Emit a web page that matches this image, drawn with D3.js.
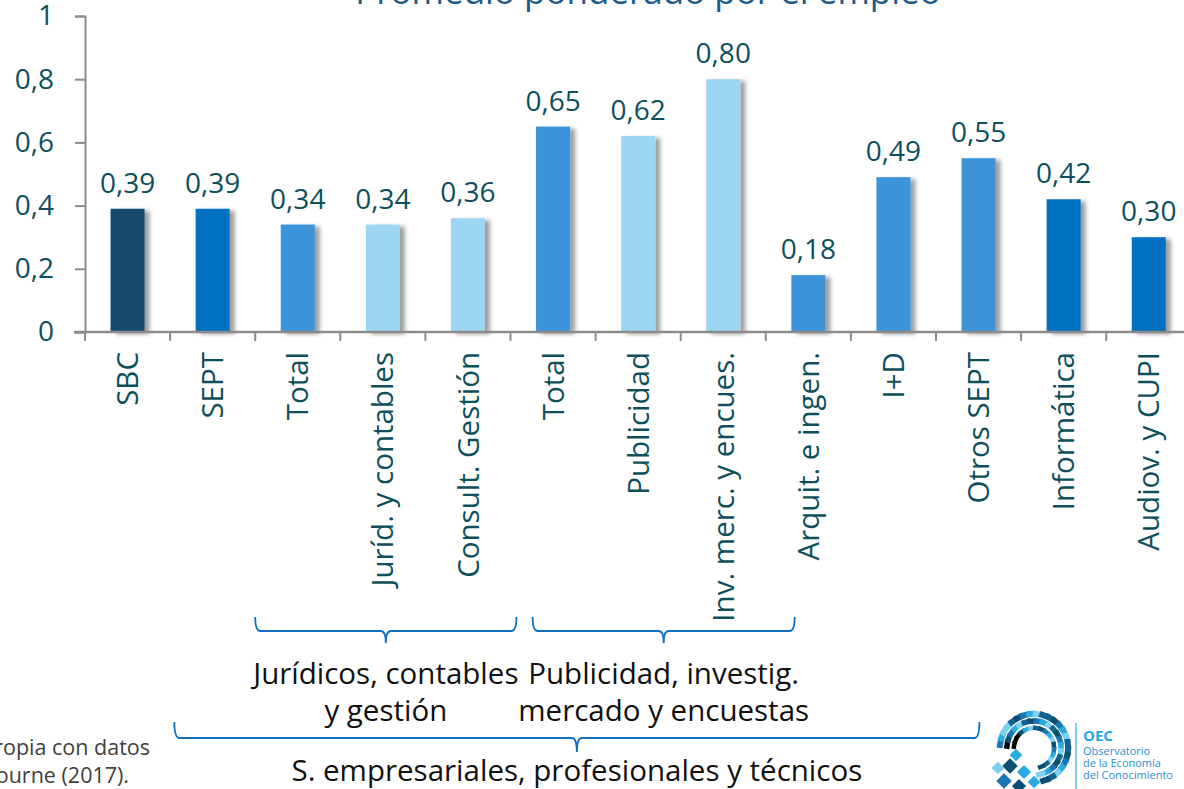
<!DOCTYPE html>
<html>
<head>
<meta charset="utf-8">
<script src="https://cdn.jsdelivr.net/npm/d3@7"></script>
<style>
  body { margin: 0; background: #fff; }
  svg { display: block; }
  text { font-family: "Open Sans", "Noto Sans", sans-serif; }
</style>
</head>
<body>
<svg id="chart" width="1184" height="789"></svg>
<script>
// ---- data ----
const categories = ["SBC", "SEPT", "Total", "Juríd. y contables", "Consult. Gestión",
  "Total", "Publicidad", "Inv. merc. y encues.", "Arquit. e ingen.", "I+D",
  "Otros SEPT", "Informática", "Audiov. y CUPI"];
const values = [0.39, 0.39, 0.34, 0.34, 0.36, 0.65, 0.62, 0.80, 0.18, 0.49, 0.55, 0.42, 0.30];
const colorGroups = ["dark", "mid", "light2", "light", "light", "light2", "light", "light",
  "light2", "light2", "light2", "mid", "mid"];
const yTicks = [0, 0.2, 0.4, 0.6, 0.8, 1];
const title = "Promedio ponderado por el empleo";
const braceGroups = [
  { from: 2.0, to: 5.07, level: 0, lines: ["Jurídicos, contables", "y gestión"] },
  { from: 5.26, to: 8.34, level: 0, lines: ["Publicidad, investig.", "mercado y encuestas"] },
  { from: 1.05, to: 10.51, level: 1, lines: ["S. empresariales, profesionales y técnicos"] }
];
const sourceLines = ["Elaboración propia con datos", "de Frey y Osbourne (2017)."];
const logoLines = ["Observatorio", "de la Economía", "del Conocimiento"];

// ---- styles ----
const palette = { dark: "#17486e", mid: "#0070c0", light2: "#3a94d9", light: "#9dd6f2" };
const textColor = "#0e4f5c";

const svg = d3.select("#chart");
const defs = svg.append("defs");
const f = defs.append("filter").attr("id", "shadow")
  .attr("x", "-20%").attr("y", "-10%").attr("width", "160%").attr("height", "130%");
f.append("feDropShadow").attr("dx", 5).attr("dy", 2).attr("stdDeviation", 2.2)
  .attr("flood-color", "#000").attr("flood-opacity", 0.38);

const x0 = 85, bandW = 85.1;
const x = d3.scaleBand().domain(d3.range(categories.length))
  .range([x0, x0 + bandW * categories.length]).paddingInner(0.6).paddingOuter(0.3);
const y = d3.scaleLinear().domain([0, 1]).range([332, 16]);
const xf = v => x0 + v * bandW;

// title
svg.append("text").attr("x", 648).attr("y", 4).attr("text-anchor", "middle")
  .attr("font-size", 35).attr("fill", "#1d5a88").text(title);

// bars
svg.append("g").selectAll("rect").data(values).join("rect")
  .attr("x", (d, i) => x(i)).attr("width", x.bandwidth())
  .attr("y", d => y(d)).attr("height", d => y(0) - y(d))
  .attr("fill", (d, i) => palette[colorGroups[i]])
  .attr("filter", "url(#shadow)");

// y axis
const yAxis = svg.append("g").attr("transform", `translate(${x0},0)`)
  .call(d3.axisLeft(y).tickValues(yTicks).tickSize(10).tickPadding(21)
    .tickFormat(d => d3.format(".1f")(d).replace(".", ",").replace(/^0,0$/, "0").replace(/^1,0$/, "1")));
yAxis.select(".domain").attr("stroke", "#8c8c8c").attr("stroke-width", 2);
yAxis.selectAll(".tick line").attr("stroke", "#8c8c8c").attr("stroke-width", 2);
yAxis.selectAll(".tick text").attr("font-size", 28).attr("fill", textColor)
  .attr("font-family", "'Open Sans', sans-serif");

// x axis
const xb = d3.scaleLinear().domain([0, categories.length]).range([x0, x0 + bandW * categories.length]);
const xAxis = svg.append("g").attr("transform", `translate(0,${y(0)})`);
xAxis.append("line").attr("x1", 74).attr("x2", 1184).attr("stroke", "#8c8c8c").attr("stroke-width", 2.4);
xAxis.selectAll("line.t").data(d3.range(categories.length)).join("line").attr("class", "t")
  .attr("x1", d => xb(d)).attr("x2", d => xb(d)).attr("y1", 0).attr("y2", 9)
  .attr("stroke", "#8c8c8c").attr("stroke-width", 2);

// category labels
svg.append("g").selectAll("text").data(categories).join("text")
  .attr("transform", (d, i) => `translate(${x(i) + x.bandwidth() / 2},352) rotate(-90)`)
  .attr("text-anchor", "end").attr("dy", "0.36em")
  .attr("font-size", 29.5).attr("fill", textColor).text(d => d);

// value labels
svg.append("g").selectAll("text").data(values).join("text")
  .attr("x", (d, i) => x(i) + x.bandwidth() / 2).attr("y", d => y(d) - 16)
  .attr("text-anchor", "middle").attr("font-size", 28).attr("fill", textColor)
  .text(d => d3.format(".2f")(d).replace(".", ","));

// braces
const braceY = [{ y0: 617, y1: 631, y2: 643, t: 684, lh: 37 }, { y0: 722, y1: 738, y2: 752, t: 781, lh: 37 }];
const bg = svg.append("g");
braceGroups.forEach(b => {
  const L = braceY[b.level];
  const a = xf(b.from), c = xf(b.to), m = (a + c) / 2, r = 5;
  const p = `M${a},${L.y0} Q${a},${L.y1} ${a + r},${L.y1} L${m - r},${L.y1} Q${m},${L.y1} ${m},${L.y2}` +
    ` Q${m},${L.y1} ${m + r},${L.y1} L${c - r},${L.y1} Q${c},${L.y1} ${c},${L.y0}`;
  bg.append("path").attr("d", p).attr("fill", "none").attr("stroke", "#1170c4").attr("stroke-width", 1.8);
  b.lines.forEach((ln, k) => {
    bg.append("text").attr("x", m).attr("y", L.t + k * L.lh).attr("text-anchor", "middle")
      .attr("font-size", 29.5).attr("fill", "#111").text(ln);
  });
});

// source text
const srcEnds = [150, 129];
sourceLines.forEach((s, k) => {
  svg.append("text").attr("x", srcEnds[k]).attr("y", 755 + k * 28).attr("text-anchor", "end")
    .attr("font-size", 21.5).attr("fill", "#404040").text(s);
});

// logo
const logo = svg.append("g");
const lc = ["#0d4f73", "#1b75b0", "#29abe2", "#7fd0f0", "#14628f"];
const cx = 1034, cy = 748;
[[20, 4.5], [27, 5.5], [34, 6]].forEach(([rad, sz], ri) => {
  for (let ang = -170; ang <= 80; ang += 15 - ri * 2) {
    const t = ang * Math.PI / 180;
    const px = cx + rad * Math.cos(t), py = cy + rad * Math.sin(t);
    logo.append("rect").attr("x", -sz).attr("y", -sz / 2).attr("width", sz * 2 - 1.5).attr("height", sz)
      .attr("transform", `translate(${px},${py}) rotate(${ang + 90})`)
      .attr("fill", lc[(Math.round(ang / 13) + ri * 2 + 10) % lc.length]);
  }
});
[[1010, 766, 5.5, "#0d4f73"], [1024, 772, 5, "#29abe2"], [1004, 781, 5.5, "#1b75b0"],
 [1019, 786, 5, "#0d4f73"], [1034, 782, 4.5, "#29abe2"], [998, 768, 4.5, "#7fd0f0"], [1016, 755, 4.5, "#29abe2"]]
  .forEach(([px, py, s, c]) => {
    logo.append("rect").attr("x", -s).attr("y", -s).attr("width", 2 * s).attr("height", 2 * s)
      .attr("transform", `translate(${px},${py}) rotate(45)`).attr("fill", c);
  });
logo.append("line").attr("x1", 1076).attr("x2", 1076).attr("y1", 723).attr("y2", 789)
  .attr("stroke", "#29abe2").attr("stroke-width", 1.2);
logo.append("text").attr("x", 1083).attr("y", 741).attr("font-family", "'Liberation Sans', Arial, sans-serif")
  .attr("font-weight", "bold").attr("font-size", 15).attr("fill", "#29a9e1").text("OEC");
logoLines.forEach((s, k) => {
  logo.append("text").attr("x", 1083).attr("y", 755 + k * 12)
    .attr("font-family", "'Liberation Sans', Arial, sans-serif")
    .attr("font-size", 11).attr("fill", "#2a8fd0").text(s);
});
</script>
</body>
</html>
